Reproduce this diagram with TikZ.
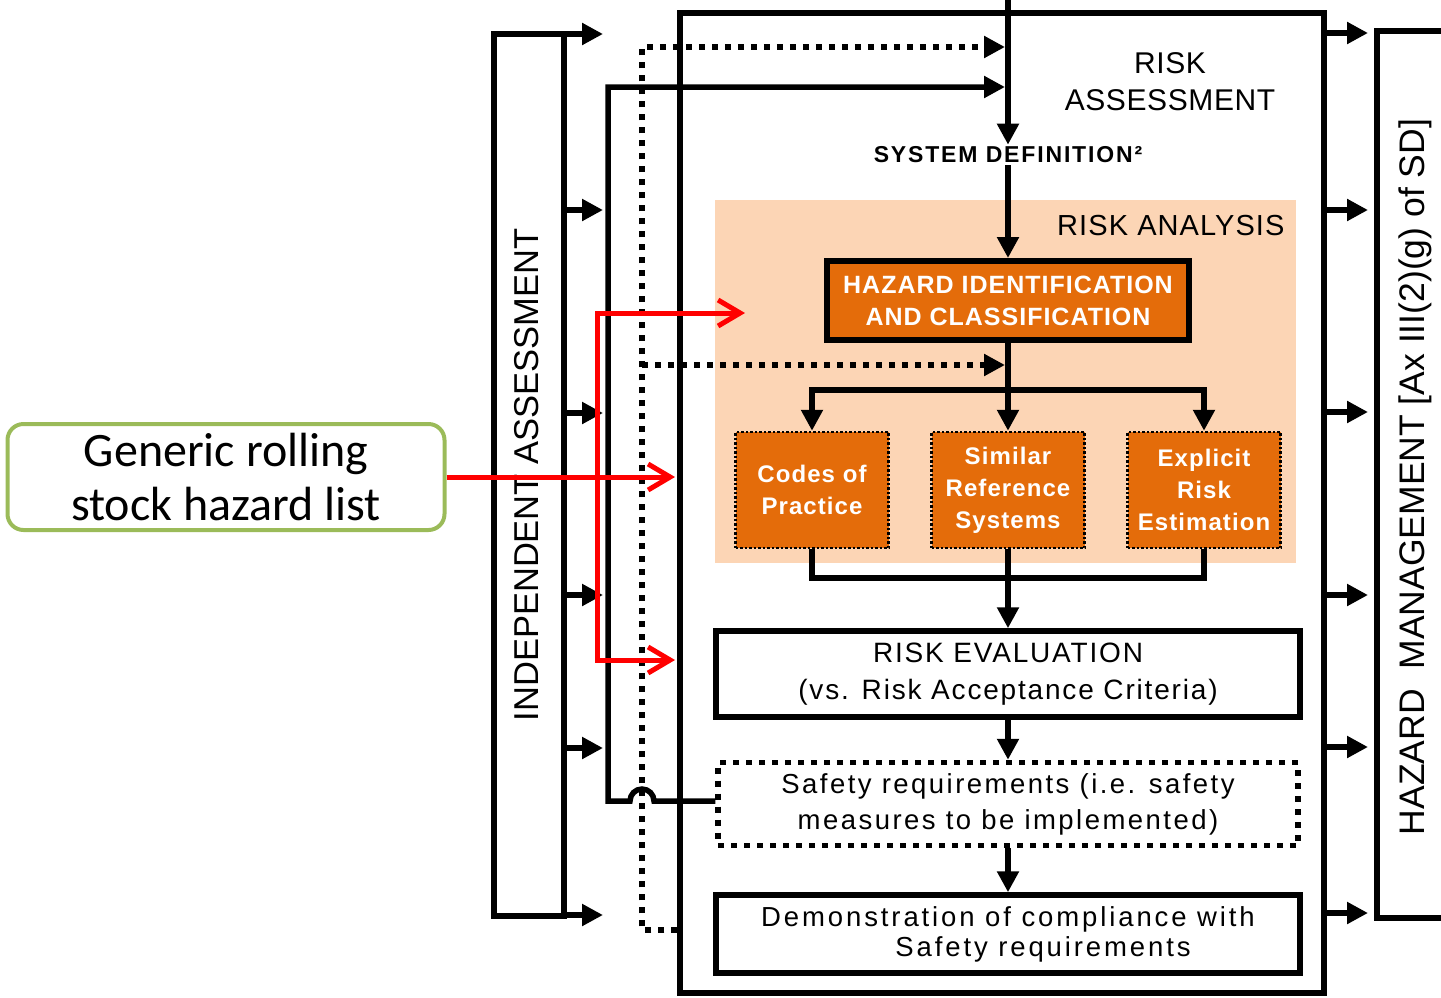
\documentclass[tikz,border=0pt]{standalone}
\usepackage{fontspec}
\setmainfont{Liberation Sans}
\newfontfamily\calib{Carlito}
\usetikzlibrary{arrows.meta}
\definecolor{orng}{HTML}{E46C0A}
\definecolor{peach}{HTML}{FCD5B5}
\definecolor{grn}{HTML}{9BBB59}
\newcommand{\lsp}[1]{\addfontfeatures{LetterSpace=#1}}
\begin{document}
\begin{tikzpicture}[x=1pt,y=-1pt,
  thickline/.style={line width=5.5pt},
  arr/.style={line width=5.5pt,-{Triangle[length=21pt,width=21pt]}},
  dotline/.style={line width=5.5pt,dash pattern=on 6pt off 7pt},
  dotarr/.style={dotline,-{Triangle[length=21pt,width=21pt]}},
  redarr/.style={line width=5pt,red,-{Straight Barb[length=22pt,width=26pt]}},
  redarrs/.style={line width=5pt,red,{Straight Barb[length=22pt,width=26pt]}-{Straight Barb[length=22pt,width=26pt]}},
  subbox/.style={draw,line width=2.5pt,dash pattern=on 2.5pt off 2pt,fill=orng,text=white,
    font=\bfseries\fontsize{24}{32}\selectfont\lsp{4.5},align=center,minimum width=153pt,minimum height=116pt,inner sep=0pt},
  solidbox/.style={draw,line width=5.5pt,align=center,minimum width=584pt,inner sep=0pt},
  dotbox/.style={draw,dotline,align=center,minimum width=580pt,inner sep=0pt}
]
\useasboundingbox (0,0) rectangle (1441,997);

% risk analysis background
\node[fill=peach,minimum width=581pt,minimum height=363pt,inner sep=0pt] (ra) at (1005.5,381.5) {};

% frames
\node[draw,line width=5.5pt,minimum width=644pt,minimum height=980pt,inner sep=0pt] (main) at (1002,503) {};
\node[draw,line width=5.5pt,minimum width=70pt,minimum height=882pt,inner sep=0pt] (ia) at (529,475) {};
\node[draw,line width=5.5pt,minimum width=90pt,minimum height=887pt,inner sep=0pt] (hm) at (1422,474.5) {};

% texts
\node[rotate=90,font=\fontsize{34.5}{40}\selectfont] (iatext) at (527,475) {INDEPENDENT ASSESSMENT};
\node[rotate=90,font=\fontsize{35.5}{40}\selectfont] (hmtext) at (1415,477) {HAZARD\ \ MANAGEMENT [Ax III(2)(g) of SD]};
\node[font=\fontsize{30}{37}\selectfont\lsp{2},align=center] (ratitle) at (1170,82) {RISK\\ASSESSMENT};
\node[font=\bfseries\fontsize{23}{28}\selectfont\lsp{8},inner sep=2pt] (sysdef) at (1008,155) {SYSTEM DEFINITION²};
\node[font=\fontsize{29}{34}\selectfont\lsp{3.7},anchor=east] (ralabel) at (1288,226) {RISK ANALYSIS};

% boxes
\node[draw,line width=6pt,fill=orng,text=white,font=\bfseries\fontsize{25}{32}\selectfont\lsp{4},align=center,
  minimum width=362pt,minimum height=79pt,inner sep=0pt] (hz) at (1008,300.5) {HAZARD IDENTIFICATION\\AND CLASSIFICATION};
\node[subbox] (cop) at (812,490) {Codes of\\Practice};
\node[subbox] (sim) at (1008,490) {Similar\\Reference\\Systems};
\node[subbox] (ert) at (1204,490) {Explicit\\Risk\\Estimation};
\node[solidbox,minimum height=86pt,font=\fontsize{28}{37}\selectfont\lsp{6.5}] (ev) at (1008,674) {RISK EVALUATION\\(vs. Risk Acceptance Criteria)};
\node[dotbox,minimum height=83pt,font=\fontsize{27.5}{36}\selectfont\lsp{9}] (sf) at (1008,804) {Safety requirements (i.e. safety\\measures to be implemented)};
\node[solidbox,minimum height=78pt,font=\fontsize{27.5}{30}\selectfont\lsp{10.5}] (dm) at (1008,934) {Demonstration of compliance with\\\hspace*{70pt}Safety requirements};

% generic box
\node[draw=grn,line width=4pt,rounded corners=16pt,minimum width=437pt,minimum height=106pt,inner sep=0pt,
  font=\calib\fontsize{48}{54}\selectfont,align=center] (gen) at (226,477) {Generic rolling\\stock hazard list};

% coordinates
\coordinate (topin) at (1008,0);
\coordinate (j1) at (1008,390);
\coordinate (j2) at (1008,578);
\coordinate (dlb) at (642,930);
\coordinate (dlt) at (642,47);
\coordinate (dlm) at (642,365);
\coordinate (dsd) at (1005,47);
\coordinate (dhz) at (1005,365);
\coordinate (hopR) at (654,801);
\coordinate (fbc) at (608,801);
\coordinate (fbt) at (608,87);
\coordinate (fbend) at (1005,87);
\coordinate (rmEnd) at (675,477);
\coordinate (rtEnd) at (745,313);
\coordinate (rt) at (597,313);
\coordinate (rb) at (597,660);
\coordinate (rbEnd) at (675,660);

% main flow
\draw[arr] (topin) -- (sysdef.north);
\draw[arr] (sysdef.south) -- (hz.north);
\draw[thickline] (hz.south) -- (j1);
\draw[arr] (j1) -| (cop.north);
\draw[arr] (j1) -| (ert.north);
\draw[arr] (j1) -- (sim.north);
\draw[thickline] (cop.south) |- (j2);
\draw[thickline] (ert.south) |- (j2);
\draw[arr] (sim.south) -- (ev.north);
\draw[arr] (ev.south) -- (sf.north);
\draw[arr] (sf.south) -- (dm.north);

% feedback loops
\draw[dotarr] (main.west |- dlb) -- (dlb) -- (dlt) -- (dsd);
\draw[dotarr] (dlm) -- (dhz);
\draw[arr] (sf.west |- hopR) -- (hopR) arc[start angle=0,end angle=180,radius=12pt] -- (fbc) -- (fbt) -- (fbend);

% side arrows
\foreach \i/\yy in {1/34,2/210,3/413,4/595,5/748,6/915}{
  \coordinate (ia\i) at (603,\yy);
  \draw[arr] (ia.east |- ia\i) -- (ia\i);
}
\foreach \i/\yy in {1/33,2/210,3/412,4/595,5/747,6/913}{
  \coordinate (hm\i) at (1368,\yy);
  \draw[arr] (main.east |- hm\i) -- (hm\i);
}

% red arrows
\draw[redarr] (gen.east) -- (rmEnd);
\draw[redarrs] (rtEnd) -- (rt) -- (rb) -- (rbEnd);
\end{tikzpicture}
\end{document}
